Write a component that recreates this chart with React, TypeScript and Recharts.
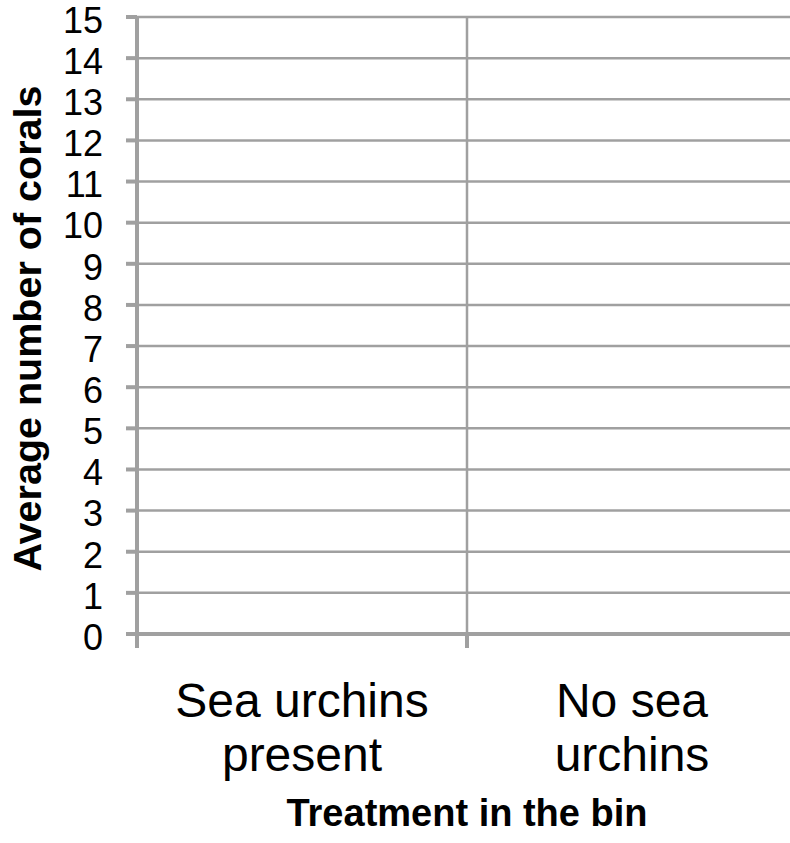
import { BarChart, Bar, XAxis, YAxis, CartesianGrid } from 'recharts'

// empty chart: the original has no bars plotted yet
const categories = ['Sea urchins present', 'No sea urchins']
const categoryLines = [['Sea urchins', 'present'], ['No sea', 'urchins']]
const averageCorals: (number | null)[] = [null, null]
const yTicks = [0, 1, 2, 3, 4, 5, 6, 7, 8, 9, 10, 11, 12, 13, 14, 15]

const data = categories.map((name, i) => ({ name, value: averageCorals[i] }))

const font = '"Liberation Sans", Arial, sans-serif'
const grey = '#a0a0a0'

// label in the middle of each band, tick mark at the band's left edge (excel style)
function CategoryTick({ x, y, payload, width, index }: any) {
  const lines = categoryLines[categories.indexOf(payload.value)] ?? [payload.value]
  const half = width / categories.length / 2
  return (
    <g>
      <line x1={x - half} y1={y} x2={x - half} y2={y + 14} stroke={grey} strokeWidth={4} />
      {index === categories.length - 1 && (
        <line x1={x + half} y1={y} x2={x + half} y2={y + 14} stroke={grey} strokeWidth={4} />
      )}
      <text x={x} y={y + 83} textAnchor="middle" fontSize={48} fontFamily={font} fill="#000">
        {lines.map((l, i) => <tspan key={i} x={x} dy={i === 0 ? 0 : 54}>{l}</tspan>)}
      </text>
    </g>
  )
}

function YTitle({ viewBox }: any) {
  const cx = viewBox.x + 19
  const cy = viewBox.y + viewBox.height / 2 + 3
  return (
    <text x={cx} y={cy} transform={`rotate(-90 ${cx} ${cy})`} textAnchor="middle" dominantBaseline="central"
      fontSize={39.5} fontWeight="bold" fontFamily={font} fill="#000">Average number of corals</text>
  )
}

function XTitle({ viewBox }: any) {
  return (
    <text x={viewBox.x + viewBox.width / 2} y={viewBox.y + 192} textAnchor="middle"
      fontSize={38} fontWeight="bold" fontFamily={font} fill="#000">Treatment in the bin</text>
  )
}

export default function App() {
  return (
    <div style={{ position: 'absolute', top: 0, left: 0, width: 790, height: 843, overflow: 'hidden' }}>
      <BarChart width={800} height={843} data={data} margin={{ top: 17, right: 3, left: 8, bottom: 0 }}>
        <CartesianGrid stroke={grey} strokeWidth={2.5}
          verticalCoordinatesGenerator={({ offset }: any) =>
            categories.map((_, i) => offset.left + (offset.width * i) / categories.length)} />
        <XAxis dataKey="name" height={209} axisLine={{ stroke: grey, strokeWidth: 4 }} tickLine={false}
          tickSize={0} tickMargin={0} interval={0} tick={<CategoryTick />} label={<XTitle />} />
        <YAxis domain={[0, 15]} ticks={yTicks} allowDataOverflow interval={0} width={129} tickSize={11} tickMargin={23}
          axisLine={{ stroke: grey, strokeWidth: 4 }} tickLine={{ stroke: grey, strokeWidth: 4 }}
          tick={{ fontSize: 36, fill: '#000', fontFamily: font, dy: 3 }} label={<YTitle />} />
        <Bar dataKey="value" fill="#4f81bd" isAnimationActive={false} />
      </BarChart>
    </div>
  )
}
